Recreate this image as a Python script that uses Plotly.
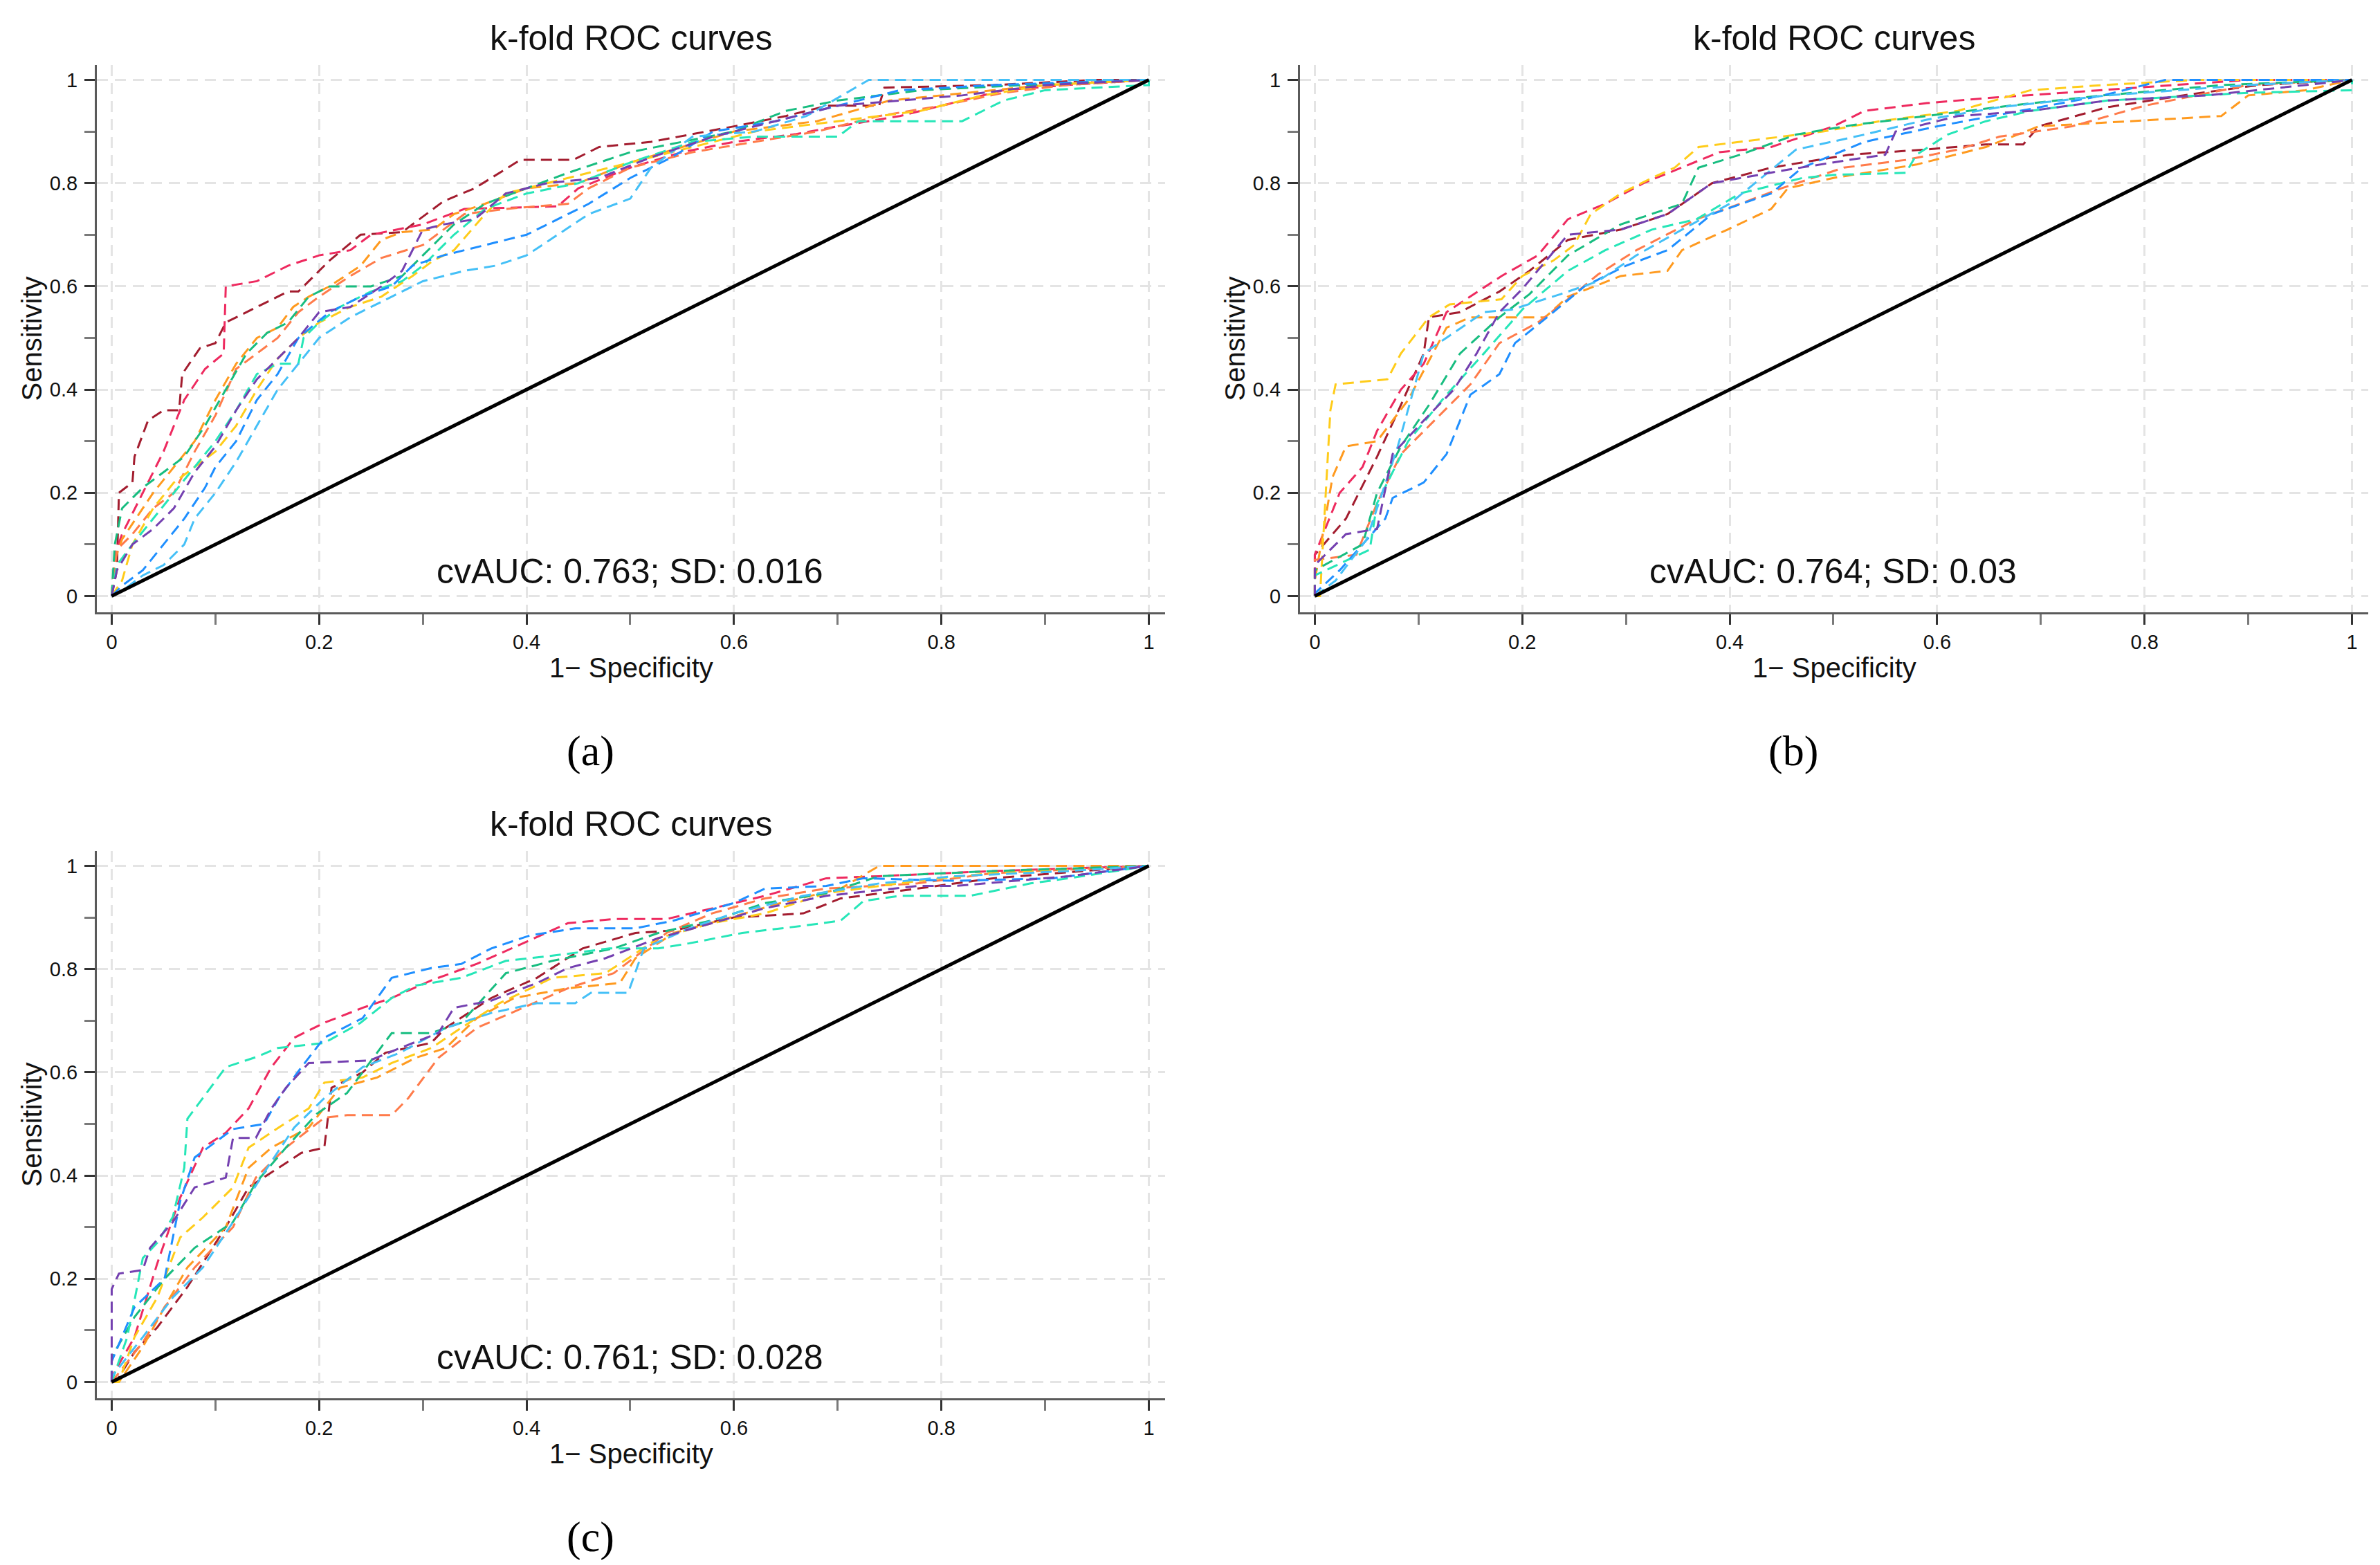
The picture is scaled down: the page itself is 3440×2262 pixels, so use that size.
import plotly.graph_objects as go

# ---- data (1 - specificity, sensitivity) ----
TICKS = [0, 0.2, 0.4, 0.6, 0.8, 1]
MINOR_TICKS = [0.1, 0.3, 0.5, 0.7, 0.9]
FOLDS = ["maroon", "crimson", "orange", "coral", "gold",
         "green", "aqua", "blue", "sky", "purple"]
FOLD_COLORS = ["#A31D2F", "#EE2A5F", "#FF9A1F", "#FF7B4A", "#FFCC1A",
               "#18BD80", "#26E6B8", "#1F8FFF", "#45C0F7", "#7440B0"]
CV_TEXT = ["cvAUC: 0.763; SD: 0.016", "cvAUC: 0.764; SD: 0.03", "cvAUC: 0.761; SD: 0.028"]
CAPTIONS = ["(a)", "(b)", "(c)"]

# panel (a)
a_maroon = [(0, 0), (0.005, 0.05), (0.007, 0.2), (0.02, 0.22), (0.022, 0.27), (0.035, 0.34), (0.05, 0.36),
            (0.065, 0.36), (0.068, 0.43), (0.085, 0.48), (0.1, 0.49), (0.11, 0.53), (0.14, 0.56), (0.17, 0.59),
            (0.18, 0.59), (0.21, 0.65), (0.24, 0.70), (0.28, 0.705), (0.32, 0.765), (0.35, 0.79), (0.39, 0.84),
            (0.395, 0.845), (0.445, 0.845), (0.47, 0.87), (0.52, 0.88), (0.6, 0.91), (0.65, 0.93), (0.69, 0.95),
            (0.74, 0.95), (0.745, 0.985), (0.85, 0.99), (0.95, 1.0), (1, 1)]
a_crimson = [(0, 0), (0.003, 0.08), (0.01, 0.12), (0.03, 0.2), (0.05, 0.28), (0.07, 0.38), (0.09, 0.44),
             (0.108, 0.47), (0.11, 0.6), (0.14, 0.61), (0.17, 0.64), (0.2, 0.66), (0.23, 0.67), (0.25, 0.7),
             (0.3, 0.72), (0.34, 0.75), (0.43, 0.755), (0.45, 0.79), (0.5, 0.83), (0.55, 0.86), (0.6, 0.88),
             (0.66, 0.895), (0.7, 0.91), (0.76, 0.93), (0.82, 0.96), (0.86, 0.98), (0.92, 0.99), (1, 1)]
a_orange = [(0, 0), (0.003, 0.07), (0.01, 0.11), (0.02, 0.14), (0.04, 0.2), (0.06, 0.25), (0.08, 0.3),
            (0.1, 0.38), (0.12, 0.45), (0.14, 0.5), (0.16, 0.52), (0.175, 0.56), (0.19, 0.58), (0.21, 0.6),
            (0.24, 0.64), (0.26, 0.69), (0.28, 0.705), (0.31, 0.71), (0.33, 0.74), (0.36, 0.76), (0.4, 0.79),
            (0.45, 0.8), (0.5, 0.84), (0.55, 0.87), (0.6, 0.9), (0.68, 0.92), (0.75, 0.96), (0.8, 0.97),
            (0.9, 0.99), (1, 1)]
a_coral = [(0, 0), (0.005, 0.09), (0.02, 0.12), (0.04, 0.17), (0.06, 0.2), (0.08, 0.28), (0.1, 0.35),
           (0.12, 0.44), (0.14, 0.47), (0.16, 0.5), (0.18, 0.55), (0.2, 0.58), (0.23, 0.62), (0.26, 0.655),
           (0.3, 0.68), (0.34, 0.74), (0.38, 0.75), (0.44, 0.76), (0.46, 0.79), (0.5, 0.83), (0.56, 0.86),
           (0.62, 0.88), (0.68, 0.9), (0.74, 0.93), (0.8, 0.95), (0.86, 0.975), (0.92, 0.99), (1, 1)]
a_gold = [(0, 0), (0.01, 0.03), (0.02, 0.1), (0.04, 0.17), (0.06, 0.22), (0.08, 0.25), (0.1, 0.28),
          (0.12, 0.33), (0.14, 0.4), (0.16, 0.46), (0.18, 0.5), (0.2, 0.53), (0.23, 0.56), (0.26, 0.58),
          (0.29, 0.62), (0.31, 0.65), (0.33, 0.67), (0.36, 0.74), (0.38, 0.78), (0.42, 0.8), (0.46, 0.82),
          (0.5, 0.84), (0.56, 0.87), (0.62, 0.9), (0.7, 0.92), (0.78, 0.94), (0.84, 0.97), (0.9, 0.99), (1, 1)]
a_green = [(0, 0), (0.003, 0.1), (0.01, 0.17), (0.03, 0.21), (0.05, 0.24), (0.07, 0.27), (0.09, 0.33),
           (0.11, 0.4), (0.13, 0.47), (0.15, 0.51), (0.17, 0.53), (0.19, 0.58), (0.21, 0.6), (0.25, 0.6),
           (0.28, 0.62), (0.3, 0.66), (0.33, 0.72), (0.36, 0.76), (0.4, 0.79), (0.44, 0.82), (0.5, 0.86),
           (0.55, 0.88), (0.6, 0.9), (0.65, 0.94), (0.7, 0.96), (0.78, 0.98), (0.88, 0.99), (1, 1)]
a_aqua = [(0, 0), (0.005, 0.06), (0.02, 0.1), (0.04, 0.15), (0.06, 0.2), (0.08, 0.25), (0.1, 0.3),
          (0.12, 0.36), (0.14, 0.43), (0.16, 0.45), (0.18, 0.45), (0.185, 0.5), (0.2, 0.53), (0.22, 0.56),
          (0.25, 0.59), (0.28, 0.61), (0.3, 0.64), (0.33, 0.7), (0.36, 0.75), (0.4, 0.78), (0.45, 0.8),
          (0.5, 0.84), (0.56, 0.88), (0.62, 0.89), (0.7, 0.89), (0.72, 0.92), (0.82, 0.92), (0.86, 0.96),
          (0.9, 0.98), (1, 0.99), (1, 1)]
a_blue = [(0, 0), (0.01, 0.02), (0.03, 0.05), (0.05, 0.1), (0.07, 0.15), (0.09, 0.21), (0.1, 0.25),
          (0.12, 0.3), (0.14, 0.38), (0.16, 0.43), (0.18, 0.5), (0.21, 0.55), (0.24, 0.58), (0.27, 0.6),
          (0.29, 0.64), (0.32, 0.66), (0.36, 0.68), (0.4, 0.7), (0.43, 0.73), (0.46, 0.76), (0.5, 0.81),
          (0.54, 0.85), (0.58, 0.9), (0.64, 0.92), (0.7, 0.95), (0.76, 0.98), (0.85, 0.99), (1, 1)]
a_sky = [(0, 0), (0.01, 0.01), (0.03, 0.04), (0.05, 0.06), (0.07, 0.1), (0.08, 0.15), (0.1, 0.2),
         (0.12, 0.26), (0.14, 0.33), (0.16, 0.4), (0.18, 0.45), (0.2, 0.5), (0.23, 0.54), (0.26, 0.57),
         (0.3, 0.61), (0.34, 0.63), (0.37, 0.64), (0.4, 0.66), (0.43, 0.7), (0.46, 0.74), (0.5, 0.77),
         (0.52, 0.83), (0.56, 0.89), (0.62, 0.9), (0.67, 0.93), (0.73, 1.0), (1, 1)]
a_purple = [(0, 0), (0.005, 0.05), (0.02, 0.1), (0.04, 0.13), (0.06, 0.17), (0.08, 0.24), (0.1, 0.29),
            (0.12, 0.36), (0.14, 0.42), (0.16, 0.46), (0.18, 0.5), (0.2, 0.55), (0.23, 0.56), (0.26, 0.6),
            (0.28, 0.63), (0.3, 0.71), (0.32, 0.72), (0.35, 0.73), (0.38, 0.78), (0.42, 0.8), (0.47, 0.81),
            (0.52, 0.85), (0.58, 0.89), (0.64, 0.92), (0.7, 0.95), (0.76, 0.96), (0.82, 0.97), (0.9, 0.99), (1, 1)]

# panel (b)
b_maroon = [(0, 0), (0, 0.08), (0.03, 0.15), (0.06, 0.27), (0.083, 0.37), (0.105, 0.47), (0.11, 0.54),
            (0.14, 0.55), (0.178, 0.59), (0.207, 0.63), (0.244, 0.69), (0.295, 0.71), (0.34, 0.74), (0.383, 0.8),
            (0.44, 0.83), (0.515, 0.855), (0.588, 0.865), (0.647, 0.875), (0.683, 0.875), (0.698, 0.91),
            (0.764, 0.947), (0.837, 0.97), (0.91, 0.99), (1, 1)]
b_crimson = [(0, 0), (0, 0.08), (0.024, 0.2), (0.046, 0.25), (0.06, 0.32), (0.083, 0.4), (0.105, 0.45),
             (0.127, 0.55), (0.18, 0.62), (0.215, 0.66), (0.244, 0.73), (0.28, 0.76), (0.317, 0.8), (0.354, 0.83),
             (0.39, 0.86), (0.44, 0.87), (0.5, 0.91), (0.53, 0.94), (0.59, 0.955), (0.65, 0.965), (0.76, 0.98),
             (0.9, 1.0), (1, 1)]
b_orange = [(0, 0), (0, 0.03), (0.017, 0.23), (0.03, 0.29), (0.06, 0.3), (0.09, 0.38), (0.127, 0.52),
            (0.15, 0.54), (0.222, 0.54), (0.244, 0.58), (0.295, 0.62), (0.34, 0.63), (0.354, 0.67), (0.398, 0.71),
            (0.44, 0.75), (0.456, 0.79), (0.5, 0.81), (0.58, 0.836), (0.647, 0.87), (0.698, 0.91), (0.874, 0.93),
            (0.9, 0.97), (0.955, 0.98), (1, 1)]
b_coral = [(0, 0), (0, 0.07), (0.04, 0.08), (0.06, 0.18), (0.083, 0.275), (0.12, 0.35), (0.15, 0.41),
           (0.178, 0.49), (0.215, 0.53), (0.244, 0.575), (0.273, 0.623), (0.31, 0.67), (0.368, 0.73), (0.41, 0.76),
           (0.45, 0.79), (0.51, 0.83), (0.57, 0.845), (0.62, 0.865), (0.66, 0.89), (0.73, 0.91), (0.8, 0.95),
           (0.9, 0.99), (1, 1)]
b_gold = [(0, 0), (0.005, 0.0), (0.015, 0.36), (0.02, 0.41), (0.07, 0.42), (0.083, 0.47), (0.11, 0.54),
          (0.13, 0.565), (0.18, 0.575), (0.2, 0.62), (0.23, 0.65), (0.25, 0.68), (0.266, 0.74), (0.295, 0.78),
          (0.325, 0.81), (0.347, 0.83), (0.37, 0.87), (0.43, 0.885), (0.49, 0.9), (0.545, 0.92), (0.62, 0.94),
          (0.69, 0.98), (0.76, 0.99), (0.85, 1.0), (1, 1)]
b_green = [(0, 0), (0, 0.05), (0.046, 0.1), (0.06, 0.2), (0.083, 0.29), (0.11, 0.37), (0.14, 0.47),
           (0.178, 0.54), (0.207, 0.585), (0.244, 0.66), (0.295, 0.72), (0.354, 0.76), (0.37, 0.83), (0.41, 0.855),
           (0.464, 0.894), (0.52, 0.913), (0.59, 0.93), (0.67, 0.95), (0.76, 0.97), (0.875, 0.99), (1, 1)]
b_aqua = [(0, 0), (0, 0.04), (0.053, 0.09), (0.06, 0.18), (0.09, 0.3), (0.127, 0.39), (0.163, 0.47),
          (0.2, 0.555), (0.244, 0.63), (0.28, 0.67), (0.325, 0.71), (0.368, 0.73), (0.41, 0.78), (0.47, 0.81),
          (0.5, 0.816), (0.57, 0.82), (0.58, 0.855), (0.61, 0.894), (0.647, 0.92), (0.69, 0.94), (0.764, 0.96),
          (0.9, 0.975), (1, 0.98), (1, 1)]
b_blue = [(0, 0), (0, 0.005), (0.024, 0.05), (0.068, 0.15), (0.075, 0.19), (0.105, 0.22), (0.127, 0.275),
          (0.15, 0.39), (0.178, 0.43), (0.193, 0.49), (0.23, 0.55), (0.26, 0.6), (0.3, 0.64), (0.34, 0.67),
          (0.383, 0.74), (0.44, 0.78), (0.47, 0.83), (0.53, 0.88), (0.6, 0.91), (0.654, 0.93), (0.76, 0.97),
          (0.82, 1.0), (1, 1)]
b_sky = [(0, 0), (0.02, 0.03), (0.05, 0.11), (0.08, 0.29), (0.105, 0.47), (0.127, 0.5), (0.163, 0.55),
         (0.19, 0.555), (0.237, 0.585), (0.273, 0.61), (0.31, 0.66), (0.354, 0.71), (0.4, 0.76), (0.464, 0.865),
         (0.53, 0.894), (0.59, 0.923), (0.66, 0.947), (0.764, 0.97), (0.9, 0.99), (1, 1)]
b_purple = [(0, 0), (0, 0.06), (0.03, 0.12), (0.06, 0.13), (0.075, 0.275), (0.105, 0.34), (0.134, 0.4),
            (0.156, 0.47), (0.178, 0.55), (0.2, 0.595), (0.244, 0.7), (0.295, 0.71), (0.34, 0.74), (0.383, 0.8),
            (0.456, 0.826), (0.515, 0.845), (0.55, 0.855), (0.56, 0.9), (0.62, 0.93), (0.69, 0.94), (0.764, 0.96),
            (0.86, 0.97), (0.955, 0.99), (1, 1)]

# panel (c)
c_maroon = [(0, 0), (0.004, 0.0), (0.022, 0.058), (0.044, 0.106), (0.073, 0.184), (0.11, 0.3), (0.132, 0.377),
            (0.154, 0.406), (0.183, 0.444), (0.205, 0.454), (0.212, 0.57), (0.242, 0.6), (0.264, 0.638),
            (0.308, 0.657), (0.322, 0.686), (0.366, 0.744), (0.41, 0.783), (0.454, 0.84), (0.505, 0.87),
            (0.542, 0.875), (0.6, 0.9), (0.667, 0.908), (0.703, 0.937), (0.777, 0.956), (0.85, 0.976), (1, 1)]
c_crimson = [(0, 0), (0, 0.01), (0.022, 0.087), (0.044, 0.23), (0.066, 0.357), (0.088, 0.454), (0.11, 0.483),
             (0.132, 0.53), (0.154, 0.61), (0.176, 0.667), (0.205, 0.696), (0.242, 0.725), (0.27, 0.744),
             (0.308, 0.778), (0.352, 0.81), (0.396, 0.85), (0.44, 0.889), (0.484, 0.897), (0.535, 0.897),
             (0.58, 0.918), (0.63, 0.942), (0.689, 0.976), (0.74, 0.98), (0.85, 0.99), (1, 1)]
c_orange = [(0, 0), (0.007, 0.0), (0.03, 0.068), (0.051, 0.145), (0.073, 0.222), (0.11, 0.3), (0.132, 0.415),
            (0.154, 0.454), (0.19, 0.493), (0.22, 0.57), (0.256, 0.59), (0.293, 0.628), (0.322, 0.647),
            (0.352, 0.705), (0.388, 0.744), (0.44, 0.763), (0.49, 0.773), (0.505, 0.821), (0.542, 0.87),
            (0.593, 0.898), (0.645, 0.928), (0.703, 0.956), (0.74, 1.0), (1, 1)]
c_coral = [(0, 0), (0.03, 0.077), (0.051, 0.145), (0.08, 0.222), (0.117, 0.3), (0.139, 0.396), (0.168, 0.454),
           (0.205, 0.512), (0.227, 0.517), (0.27, 0.517), (0.286, 0.55), (0.315, 0.628), (0.352, 0.686),
           (0.396, 0.725), (0.44, 0.763), (0.484, 0.792), (0.535, 0.87), (0.579, 0.908), (0.63, 0.937),
           (0.689, 0.956), (0.777, 0.966), (0.85, 0.986), (1, 1)]
c_gold = [(0, 0), (0.007, 0.0), (0.022, 0.087), (0.044, 0.164), (0.066, 0.28), (0.088, 0.319), (0.117, 0.377),
          (0.132, 0.454), (0.161, 0.493), (0.19, 0.53), (0.205, 0.58), (0.242, 0.59), (0.27, 0.618),
          (0.308, 0.647), (0.337, 0.686), (0.374, 0.734), (0.425, 0.783), (0.476, 0.792), (0.498, 0.821),
          (0.527, 0.86), (0.579, 0.889), (0.63, 0.908), (0.689, 0.947), (0.74, 0.961), (0.799, 0.976),
          (0.85, 0.986), (1, 1)]
c_green = [(0, 0), (0, 0.048), (0.022, 0.126), (0.051, 0.2), (0.08, 0.26), (0.117, 0.31), (0.139, 0.386),
           (0.168, 0.454), (0.198, 0.52), (0.227, 0.56), (0.27, 0.676), (0.308, 0.676), (0.337, 0.696),
           (0.38, 0.792), (0.425, 0.816), (0.484, 0.84), (0.527, 0.87), (0.586, 0.898), (0.63, 0.928),
           (0.689, 0.947), (0.74, 0.98), (0.85, 0.99), (1, 1)]
c_aqua = [(0, 0), (0.015, 0.087), (0.03, 0.24), (0.044, 0.27), (0.059, 0.32), (0.07, 0.415), (0.073, 0.51),
          (0.095, 0.57), (0.11, 0.61), (0.14, 0.63), (0.16, 0.647), (0.205, 0.657), (0.24, 0.696), (0.27, 0.744),
          (0.293, 0.768), (0.337, 0.783), (0.38, 0.816), (0.425, 0.826), (0.48, 0.84), (0.527, 0.84),
          (0.557, 0.85), (0.608, 0.87), (0.667, 0.884), (0.703, 0.894), (0.725, 0.932), (0.76, 0.942),
          (0.828, 0.942), (0.886, 0.966), (0.923, 0.976), (1, 1)]
c_blue = [(0, 0), (0, 0.04), (0.022, 0.145), (0.051, 0.2), (0.066, 0.35), (0.08, 0.435), (0.117, 0.49),
          (0.147, 0.5), (0.161, 0.55), (0.183, 0.61), (0.205, 0.667), (0.242, 0.705), (0.27, 0.783),
          (0.308, 0.802), (0.337, 0.81), (0.366, 0.84), (0.403, 0.865), (0.447, 0.879), (0.505, 0.879),
          (0.542, 0.894), (0.6, 0.928), (0.63, 0.956), (0.689, 0.961), (0.725, 0.976), (0.813, 0.971),
          (0.908, 0.976), (1, 1)]
c_sky = [(0, 0), (0, 0.01), (0.03, 0.087), (0.059, 0.164), (0.088, 0.222), (0.117, 0.31), (0.147, 0.406),
         (0.176, 0.493), (0.205, 0.55), (0.242, 0.61), (0.278, 0.638), (0.322, 0.686), (0.366, 0.715),
         (0.41, 0.734), (0.447, 0.734), (0.462, 0.754), (0.498, 0.754), (0.513, 0.84), (0.557, 0.879),
         (0.6, 0.908), (0.667, 0.942), (0.74, 0.966), (0.813, 0.98), (0.923, 0.99), (1, 1)]
c_purple = [(0, 0), (0, 0.18), (0.007, 0.21), (0.03, 0.217), (0.037, 0.26), (0.059, 0.31), (0.08, 0.377),
            (0.11, 0.396), (0.117, 0.473), (0.139, 0.473), (0.154, 0.53), (0.168, 0.57), (0.19, 0.618),
            (0.249, 0.623), (0.278, 0.647), (0.315, 0.676), (0.33, 0.725), (0.366, 0.739), (0.41, 0.773),
            (0.44, 0.802), (0.476, 0.821), (0.527, 0.86), (0.579, 0.889), (0.63, 0.918), (0.689, 0.942),
            (0.777, 0.961), (0.813, 0.961), (0.923, 0.98), (1, 1)]

PANELS = [
    [a_maroon, a_crimson, a_orange, a_coral, a_gold, a_green, a_aqua, a_blue, a_sky, a_purple],
    [b_maroon, b_crimson, b_orange, b_coral, b_gold, b_green, b_aqua, b_blue, b_sky, b_purple],
    [c_maroon, c_crimson, c_orange, c_coral, c_gold, c_green, c_aqua, c_blue, c_sky, c_purple],
]

W, H = 3440, 2262
SANS = "Liberation Sans, Arial, Helvetica, sans-serif"
SERIF = "Liberation Serif, Times New Roman, serif"

# pixel boxes of the three plot areas (axis line extents) in the reference
BOXES = [(132, 1676, 86, 877), (1871, 3415, 86, 877), (132, 1676, 1222, 2013)]
XRANGE = [-0.0143, 1.0157]
YRANGE = [-0.0315, 1.0288]

fig = go.Figure()

for i, curves in enumerate(PANELS):
    xa = "x" if i == 0 else f"x{i + 1}"
    ya = "y" if i == 0 else f"y{i + 1}"
    for name, col, pts in zip(FOLDS, FOLD_COLORS, curves):
        fig.add_trace(go.Scatter(
            x=[p[0] for p in pts], y=[p[1] for p in pts],
            mode="lines", name=name, xaxis=xa, yaxis=ya,
            line=dict(color=col, width=3, dash="16px,9px"),
            showlegend=False, hoverinfo="skip"))
    # reference diagonal
    fig.add_trace(go.Scatter(x=[0, 1], y=[0, 1], mode="lines", xaxis=xa, yaxis=ya,
                             line=dict(color="#000000", width=5), showlegend=False,
                             hoverinfo="skip"))

layout = dict(
    width=W, height=H, autosize=False,
    margin=dict(l=0, r=0, t=0, b=0),
    paper_bgcolor="white", plot_bgcolor="white",
    showlegend=False,
    annotations=[],
)

axis_common = dict(
    showgrid=True, gridcolor="#E4E4E4", gridwidth=2.5, griddash="16px,10px",
    zeroline=False, showline=True, linecolor="#5A5A5A", linewidth=3,
    ticks="outside", ticklen=15, tickwidth=3, tickcolor="#333333",
    tickvals=TICKS, ticktext=[f"{t:g}" for t in TICKS],
    tickfont=dict(family=SANS, size=29, color="#111111"),
    minor=dict(tickvals=MINOR_TICKS, ticks="outside", ticklen=15, tickwidth=2.5,
               tickcolor="#7A7A7A", showgrid=False),
    fixedrange=True,
)

for i, (x0, x1, y0, y1) in enumerate(BOXES):
    key = "" if i == 0 else str(i + 1)
    layout["xaxis" + key] = dict(axis_common, range=XRANGE, domain=[x0 / W, x1 / W],
                                 anchor="y" + key)
    layout["yaxis" + key] = dict(axis_common, range=YRANGE, domain=[1 - y1 / H, 1 - y0 / H],
                                 anchor="x" + key, ticklabelstandoff=4)
    cx = (x0 + x1) / 2 / W
    # panel title
    layout["annotations"].append(dict(
        text="k-fold ROC curves", x=cx, y=1 - (y0 - 39) / H, xref="paper", yref="paper",
        xanchor="center", yanchor="middle", showarrow=False,
        font=dict(family=SANS, size=50, color="#111111")))
    # x axis title
    layout["annotations"].append(dict(
        text="1\u2212 Specificity", x=cx, y=1 - (y1 + 80) / H, xref="paper", yref="paper",
        xanchor="center", yanchor="middle", showarrow=False,
        font=dict(family=SANS, size=40, color="#111111")))
    # y axis title
    layout["annotations"].append(dict(
        text="Sensitivity", x=(x0 - 95) / W, y=1 - (y0 + y1) / 2 / H, xref="paper", yref="paper",
        xanchor="center", yanchor="middle", textangle=-90, showarrow=False,
        font=dict(family=SANS, size=40, color="#111111")))
    # cvAUC text
    layout["annotations"].append(dict(
        text=CV_TEXT[i], x=0.5, y=0.048, xref="x" + key, yref="y" + key,
        xanchor="center", yanchor="middle", showarrow=False,
        font=dict(family=SANS, size=50, color="#111111")))
    # caption under each panel
    layout["annotations"].append(dict(
        text=CAPTIONS[i], x=(x0 + 713) / W, y=1 - (y1 + 200) / H,
        xref="paper", yref="paper", xanchor="center", yanchor="middle", showarrow=False,
        font=dict(family=SERIF, size=62, color="#000000")))

fig.update_layout(**layout)

fig.write_html("out.html")
